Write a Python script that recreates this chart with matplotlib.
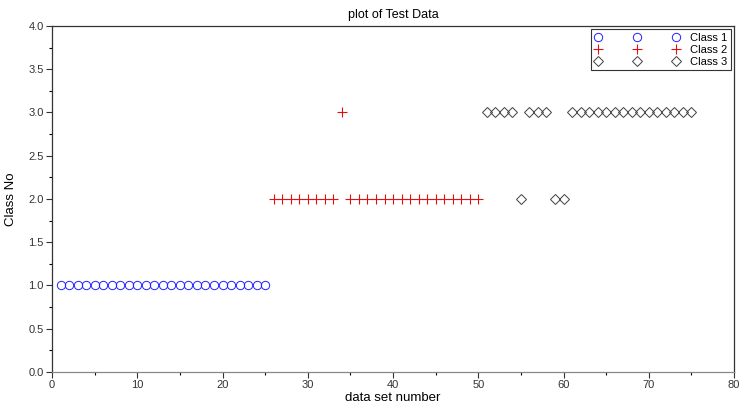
import numpy as np
import matplotlib.pyplot as plt

# ---- data ----
x1 = list(range(1, 26))
y1 = [1] * 25

x2 = list(range(26, 51))
y2 = [2] * 8 + [3] + [2] * 16          # sample 34 misclassified as 3

x3 = list(range(51, 76))
y3 = [3, 3, 3, 3, 2, 3, 3, 3, 2, 2] + [3] * 15   # 55, 59, 60 at 2

plt.rcParams['font.family'] = ['Liberation Sans', 'DejaVu Sans']

fig = plt.figure(figsize=(7.41, 4.05), dpi=100)
ax = fig.add_axes([0.0702, 0.0815, 0.9204, 0.8543])

ax.plot(x1, y1, linestyle='none', marker='o', markersize=6,
        markerfacecolor='none', markeredgecolor='#2020ff', markeredgewidth=0.7,
        label='Class 1')
ax.plot(x2, y2, linestyle='none', marker='+', markersize=7,
        color='#e01010', markeredgewidth=0.8, label='Class 2')
ax.plot(x3, y3, linestyle='none', marker='D', markersize=4.8,
        markerfacecolor='none', markeredgecolor='#404040', markeredgewidth=0.7,
        label='Class 3')

ax.set_xlim(0, 80)
ax.set_ylim(0, 4)
ax.set_xticks(np.arange(0, 81, 10))
ax.set_xticks(np.arange(5, 80, 10), minor=True)
ax.set_yticks(np.arange(0, 4.01, 0.5))
ax.set_yticks(np.arange(0.25, 4, 0.5), minor=True)
ax.yaxis.set_major_formatter(plt.FormatStrFormatter('%.1f'))
ax.tick_params(axis='both', which='major', length=4, width=0.8,
               labelsize=8, colors='#333333', pad=2)
ax.tick_params(axis='both', which='minor', length=2, width=0.8)

for side in ['top', 'right', 'left', 'bottom']:
    ax.spines[side].set_linewidth(0.9)
    ax.spines[side].set_color('#333333')
ax.spines['bottom'].set_color('#888888')

ax.set_title('plot of Test Data', fontsize=9, pad=6)
ax.set_xlabel('data set number', fontsize=9.5, labelpad=1)
ax.set_ylabel('Class No', fontsize=9.5, labelpad=8)

leg = ax.legend(loc='upper right', numpoints=3, fontsize=8,
                handlelength=7.6, handletextpad=0.9, labelspacing=0.15,
                borderpad=0.35, fancybox=False, framealpha=1,
                borderaxespad=0.3)
leg.get_frame().set_edgecolor('#333333')
leg.get_frame().set_linewidth(0.8)

plt.savefig('out.png', dpi=100)
